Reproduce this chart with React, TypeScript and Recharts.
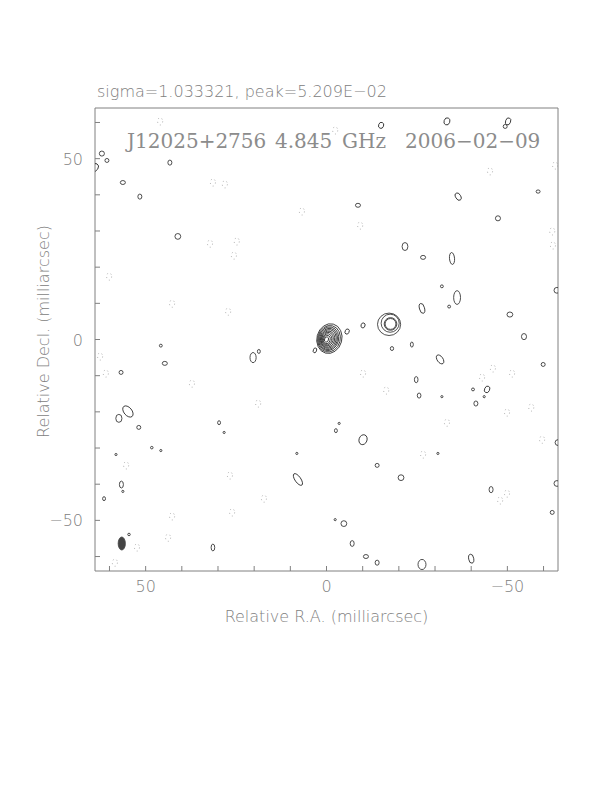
import React from 'react';
import { ScatterChart, Scatter, XAxis, YAxis } from 'recharts';

// tick positions and labels (milliarcsec)
const ticks = [-60, -50, -40, -30, -20, -10, 0, 10, 20, 30, 40, 50, 60];
const labelled = [-50, 0, 50];

// core component: nested contours [x, y, rx, ry, angle]
const core = [
  [0.0, 0.0, 0.55, 0.75, 15],
  [-0.1, 0.0, 0.9, 1.15, 15],
  [-0.2, 0.05, 1.25, 1.55, 15],
  [-0.3, 0.1, 1.55, 1.9, 15],
  [-0.4, 0.1, 1.85, 2.25, 15],
  [-0.5, 0.15, 2.15, 2.6, 15],
  [-0.55, 0.15, 2.45, 2.95, 15],
  [-0.6, 0.2, 2.75, 3.3, 15],
  [-0.7, 0.2, 3.1, 3.7, 15],
  [-0.8, 0.25, 3.45, 4.15, 15],
];

// jet component at ~(-17.7, 4.3)
const jet = [
  [-17.7, 4.3, 1.5, 1.5, 0],
  [-17.7, 4.3, 1.75, 1.75, 0],
  [-17.6, 4.5, 2.5, 2.5, 0],
  [-17.3, 4.2, 3.2, 3.1, 0],
];

// weak positive contours
const positive = [
  [62.1, 51.4, 0.7, 0.7, 0], [60.7, 49.5, 0.55, 0.55, 0], [64.0, 47.6, 0.9, 1.1, 30],
  [43.3, 48.9, 0.55, 0.7, 0], [56.3, 43.4, 0.7, 0.55, 0], [51.6, 39.5, 0.55, 0.7, 0],
  [41.1, 28.5, 0.8, 0.8, 0], [-15.1, 59.2, 0.7, 0.85, 20], [-8.7, 37.1, 0.7, 0.55, 0],
  [-21.7, 25.7, 0.8, 1.1, 0], [-33.3, 60.3, 0.8, 1.0, 20], [-50.2, 60.3, 0.7, 1.0, 20],
  [-49.4, 58.9, 0.55, 0.55, 0], [-36.4, 39.5, 0.7, 1.1, -30], [-47.4, 33.5, 0.7, 0.7, 0],
  [-58.5, 40.9, 0.55, 0.45, 0], [-26.7, 22.7, 0.7, 0.55, 0], [-34.7, 22.4, 0.7, 1.65, -5],
  [-31.9, 14.7, 0.4, 0.4, 0], [-36.1, 11.6, 0.95, 1.9, 0], [-33.9, 9.1, 0.4, 0.4, 0],
  [-26.4, 8.6, 0.7, 1.4, -15], [-50.7, 6.9, 0.8, 0.7, 0], [-63.7, 13.6, 0.8, 0.8, 0],
  [-54.6, 0.8, 0.7, 0.85, 0], [-10.1, 3.9, 0.55, 0.7, 20], [-5.7, 2.2, 0.55, 0.75, 25],
  [3.2, -3.0, 0.45, 0.7, 20], [-18.1, -2.5, 0.45, 0.55, 0], [45.8, -1.7, 0.4, 0.4, 0],
  [44.7, -6.6, 0.7, 0.55, 0], [56.8, -9.1, 0.55, 0.55, 0], [54.9, -19.9, 1.1, 1.8, -40],
  [57.4, -21.8, 0.85, 1.1, 0], [51.9, -24.3, 0.55, 0.55, 0], [29.7, -23.0, 0.4, 0.55, 0],
  [28.3, -25.7, 0.3, 0.3, 0], [48.3, -29.9, 0.35, 0.35, 0], [45.8, -30.7, 0.3, 0.3, 0],
  [58.2, -31.8, 0.3, 0.3, 0], [56.7, -40.1, 0.55, 0.95, 0], [56.3, -42.0, 0.3, 0.3, 0],
  [61.5, -44.0, 0.4, 0.55, 0], [54.6, -53.9, 0.35, 0.35, 0], [31.4, -57.5, 0.5, 0.95, 0],
  [20.3, -5.0, 0.85, 1.4, 0], [18.7, -3.3, 0.4, 0.55, 0], [-2.6, -25.2, 0.4, 0.55, 0],
  [-3.5, -23.2, 0.3, 0.3, 0], [-10.1, -27.7, 1.1, 1.4, 20], [8.2, -31.5, 0.3, 0.3, 0],
  [7.9, -38.7, 0.8, 1.9, -35], [-14.0, -34.8, 0.55, 0.55, 0], [-20.6, -38.2, 0.8, 0.8, 0],
  [-4.8, -50.9, 0.8, 0.8, 0], [-2.4, -49.8, 0.3, 0.3, 0], [-7.1, -56.4, 0.55, 0.8, 0],
  [-10.9, -60.0, 0.7, 0.55, 0], [-14.0, -61.7, 0.55, 0.7, 0], [-23.6, -1.4, 0.4, 0.7, 0],
  [-31.4, -5.5, 0.8, 1.4, -35], [-59.9, -6.9, 0.55, 0.55, 0], [-24.8, -11.1, 0.5, 0.85, 0],
  [-25.6, -15.5, 0.5, 0.7, 0], [-31.9, -15.8, 0.3, 0.3, 0], [-40.5, -13.8, 0.4, 0.4, 0],
  [-44.4, -13.8, 0.7, 0.95, 25], [-43.6, -15.8, 0.3, 0.3, 0], [-41.3, -17.7, 0.55, 0.7, 0],
  [-64.0, -28.5, 0.8, 0.8, 0], [-30.8, -31.5, 0.3, 0.3, 0], [-45.5, -41.5, 0.55, 0.85, 0],
  [-63.7, -39.8, 0.8, 0.8, 0], [-62.4, -47.8, 0.55, 0.55, 0], [-26.4, -62.2, 1.1, 1.4, 0],
  [-40.0, -60.6, 0.7, 1.25, -10],
];

// negative (dotted) contours
const negative = [
  [46.0, 60.3], [31.4, 43.4], [28.1, 42.9], [32.2, 26.5], [25.6, 23.2], [24.8, 27.1],
  [60.1, 17.4], [42.7, 9.9], [27.2, 7.7], [-2.4, 57.8], [-9.3, 31.5], [6.8, 35.4],
  [-45.2, 46.5], [-63.2, 48.1], [-62.4, 29.9], [-62.6, 26.0], [62.6, -4.7], [61.0, -9.4],
  [37.2, -12.2], [55.4, -34.8], [26.7, -37.6], [42.7, -48.9], [26.1, -47.8], [43.8, -54.8],
  [52.4, -57.5], [58.5, -61.7], [-10.1, -9.4], [-16.5, -14.1], [18.9, -17.7], [17.3, -44.0],
  [-43.0, -10.5], [-46.0, -8.0], [-51.3, -9.4], [-49.9, -20.2], [-56.6, -18.8], [-33.3, -23.0],
  [-59.6, -27.7], [-49.9, -42.6], [-26.7, -31.8], [-48.0, -44.5],
];

// restoring beam
const beam = [[56.6, -56.4, 1.0, 1.8, 0]];

const toPts = (rows) => rows.map(([x, y, rx, ry, a]) => ({ x, y, rx, ry, a }));
const negPts = negative.map(([x, y]) => ({ x, y, rx: 0.7, ry: 1.0, a: 0 }));

const K = 463 / 128; // px per milliarcsec
const GRAY = '#808080';
const SANS = '"DejaVu Sans", sans-serif';

const fmt = (v) => (v < 0 ? '\u2212' + Math.abs(v) : String(v));

const contour = (stroke, dash, fill = 'none') => (p) => (
  <ellipse
    cx={p.cx}
    cy={p.cy}
    rx={p.payload.rx * K}
    ry={p.payload.ry * K}
    transform={`rotate(${p.payload.a} ${p.cx} ${p.cy})`}
    fill={fill}
    stroke={stroke}
    strokeWidth={0.8}
    strokeDasharray={dash}
  />
);

const BottomTick = ({ x, y, payload }) => (
  <g>
    <line x1={x} y1={y} x2={x} y2={y - 5} stroke={GRAY} />
    {labelled.includes(payload.value) && (
      <text x={x} y={y + 21} textAnchor="middle" fill={GRAY} fontSize={16} fontFamily={SANS} fontWeight={200}>
        {fmt(payload.value)}
      </text>
    )}
  </g>
);
const TopTick = ({ x, y }) => <line x1={x} y1={y} x2={x} y2={y + 5} stroke={GRAY} />;
const LeftTick = ({ x, y, payload }) => (
  <g>
    <line x1={x} y1={y} x2={x + 5} y2={y} stroke={GRAY} />
    {labelled.includes(payload.value) && (
      <text x={x - 12} y={y + 6} textAnchor="end" fill={GRAY} fontSize={16} fontFamily={SANS} fontWeight={200}>
        {fmt(payload.value)}
      </text>
    )}
  </g>
);
const RightTick = ({ x, y }) => <line x1={x} y1={y} x2={x - 5} y2={y} stroke={GRAY} />;

export default function App() {
  return (
    <div style={{ position: 'relative', width: 604, height: 700 }}>
      <ScatterChart width={604} height={700} margin={{ top: 99, left: 86, right: 53, bottom: 136 }}>
        <XAxis
          dataKey="x"
          type="number"
          domain={[-64, 64]}
          reversed
          allowDataOverflow
          ticks={ticks}
          interval={0}
          height={1}
          tickSize={0}
          tickMargin={0}
          tick={BottomTick}
          axisLine={{ stroke: GRAY }}
          label={{
            content: ({ viewBox }) => (
              <text x={viewBox.x + viewBox.width / 2} y={viewBox.y + 51} textAnchor="middle" fill={GRAY} fontSize={16} fontFamily={SANS} fontWeight={200}>
                Relative R.A. (milliarcsec)
              </text>
            ),
          }}
        />
        <XAxis
          xAxisId="top"
          orientation="top"
          type="number"
          domain={[-64, 64]}
          reversed
          ticks={ticks}
          interval={0}
          height={1}
          tickSize={0}
          tickMargin={0}
          tick={TopTick}
          axisLine={{ stroke: GRAY }}
        />
        <YAxis
          dataKey="y"
          type="number"
          domain={[-64, 64]}
          allowDataOverflow
          ticks={ticks}
          interval={0}
          width={1}
          tickSize={0}
          tickMargin={0}
          tick={LeftTick}
          axisLine={{ stroke: GRAY }}
          label={{
            content: ({ viewBox }) => {
              const cx = viewBox.x + viewBox.width - 46;
              const cy = viewBox.y + viewBox.height / 2 - 8;
              return (
                <text x={cx} y={cy} transform={`rotate(-90 ${cx} ${cy})`} textAnchor="middle" fill={GRAY} fontSize={16} fontFamily={SANS} fontWeight={200}>
                  Relative Decl. (milliarcsec)
                </text>
              );
            },
          }}
        />
        <YAxis
          yAxisId="right"
          orientation="right"
          type="number"
          domain={[-64, 64]}
          ticks={ticks}
          interval={0}
          width={1}
          tickSize={0}
          tickMargin={0}
          tick={RightTick}
          axisLine={{ stroke: GRAY }}
        />
        <Scatter data={negPts} shape={contour('#999', '1 3')} isAnimationActive={false} />
        <Scatter data={toPts(positive)} shape={contour('#222')} isAnimationActive={false} />
        <Scatter data={toPts(jet)} shape={contour('#222')} isAnimationActive={false} />
        <Scatter data={toPts(core)} shape={contour('#222')} isAnimationActive={false} />
        <Scatter data={toPts(beam)} shape={contour('#444', undefined, '#444')} isAnimationActive={false} />
      </ScatterChart>
      <svg width={604} height={160} style={{ position: 'absolute', left: 0, top: 0, pointerEvents: 'none' }}>
        <text x={89} y={89} fill={GRAY} fontSize={16} fontFamily={SANS} fontWeight={200}>
          sigma=1.033321, peak=5.209E{'\u2212'}02
        </text>
        <g fill="#8c8c8c" fontSize={20} fontFamily='"DejaVu Serif", serif'>
          <text x={119} y={140}>J12025+2756</text>
          <text x={267} y={140}>4.845</text>
          <text x={334} y={140}>GHz</text>
          <text x={397} y={140}>2006{'\u2212'}02{'\u2212'}09</text>
        </g>
      </svg>
    </div>
  );
}
